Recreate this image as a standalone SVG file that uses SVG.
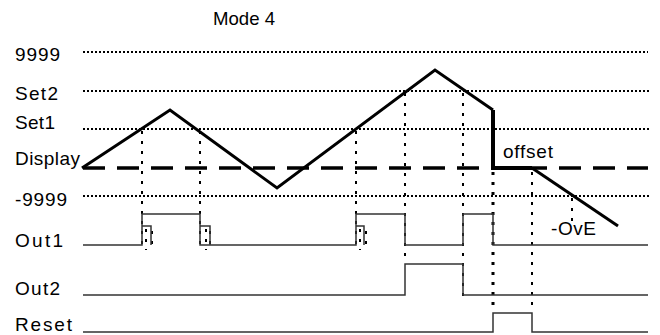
<svg xmlns="http://www.w3.org/2000/svg" width="660" height="335" viewBox="0 0 660 335">
<style>
.lbl{font-family:"Liberation Sans",Arial,sans-serif;font-size:19px;fill:#000}
.ttl{font-family:"Liberation Sans",Arial,sans-serif;font-size:19px;fill:#000}
.ref{stroke:#000;stroke-width:2;stroke-dasharray:2 2;fill:none}
.disp{stroke:#000;stroke-width:3.5;stroke-dasharray:22 12;fill:none}
.vdot{stroke:#000;stroke-width:2;stroke-dasharray:3 7;fill:none}
.vdot2{stroke:#000;stroke-width:3;stroke-dasharray:3 7;fill:none}
.sig{stroke:#333;stroke-width:1.5;fill:none}
.wave{stroke:#000;stroke-width:3;fill:none}
.thick{stroke:#000;stroke-width:4;fill:none}
</style>
<rect width="660" height="335" fill="#fff"/>
<g id="title"><text class="ttl" x="213" y="25" textLength="62" lengthAdjust="spacingAndGlyphs">Mode 4</text></g>
<g id="labels">
<text class="lbl" x="15" y="61" textLength="45" lengthAdjust="spacing">9999</text>
<text class="lbl" x="15" y="100" textLength="43" lengthAdjust="spacing">Set2</text>
<text class="lbl" x="15" y="129" textLength="40" lengthAdjust="spacing">Set1</text>
<text class="lbl" x="15" y="165" textLength="65" lengthAdjust="spacing">Display</text>
<text class="lbl" x="15" y="206" textLength="52" lengthAdjust="spacing">-9999</text>
<text class="lbl" x="15" y="247" textLength="48" lengthAdjust="spacing">Out1</text>
<text class="lbl" x="15" y="295" textLength="45" lengthAdjust="spacing">Out2</text>
<text class="lbl" x="15" y="331" textLength="57" lengthAdjust="spacing">Reset</text>
<text class="lbl" x="503" y="158" textLength="50" lengthAdjust="spacing">offset</text>
<text class="lbl" x="551" y="235" textLength="45" lengthAdjust="spacing">-OvE</text>
</g>
<g id="reference-lines">
<line class="ref" x1="83" y1="52" x2="648" y2="52"/>
<line class="ref" x1="83" y1="91" x2="650" y2="91"/>
<line class="ref" x1="83" y1="129" x2="650" y2="129"/>
<line class="ref" x1="83" y1="196" x2="650" y2="196"/>
<line class="disp" x1="83" y1="168" x2="648" y2="168"/>
</g>
<g id="connectors">
<line class="vdot" x1="142" y1="131" x2="142" y2="250"/>
<line class="vdot" x1="200" y1="131" x2="200" y2="250"/>
<line class="vdot" x1="356" y1="131" x2="356" y2="250"/>
<line class="vdot" x1="405" y1="93" x2="405" y2="262"/>
<line class="vdot" x1="463" y1="93" x2="463" y2="297"/>
<line class="vdot2" x1="493" y1="172" x2="493" y2="312"/>
<line class="vdot" x1="532" y1="172" x2="532" y2="312"/>
<line class="vdot" x1="572" y1="198" x2="572" y2="222"/>
<line class="vdot" x1="146" y1="229" x2="146" y2="250"/>
<line class="vdot" x1="152" y1="231" x2="152" y2="245"/>
<line class="vdot" x1="206" y1="229" x2="206" y2="250"/>
<line class="vdot" x1="210" y1="231" x2="210" y2="250"/>
<line class="vdot" x1="360" y1="229" x2="360" y2="250"/>
<line class="vdot" x1="366" y1="231" x2="366" y2="245"/>
</g>
<g id="display-wave">
<path class="wave" d="M82,168 L170,110 L277,188 L435,70 L493,110"/>
<path class="thick" d="M493,110 V168 H532"/>
<path class="wave" d="M532,168 L618,226"/>
</g>
<g id="out1">
<path class="sig" d="M83,245 H142 V214 H200 V245 H356 V214 H405 V245 H463 V214 H493 V245 H648"/>
<path class="sig" d="M142,226 H151 V245 M200,226 H210 V245 M356,226 H364 V245"/>
</g>
<g id="out2"><path class="sig" d="M83,295 H405 V264 H463 V295 H648"/></g>
<g id="reset"><path class="sig" d="M83,332 H493 V313 H532 V332 H648"/></g>
</svg>
